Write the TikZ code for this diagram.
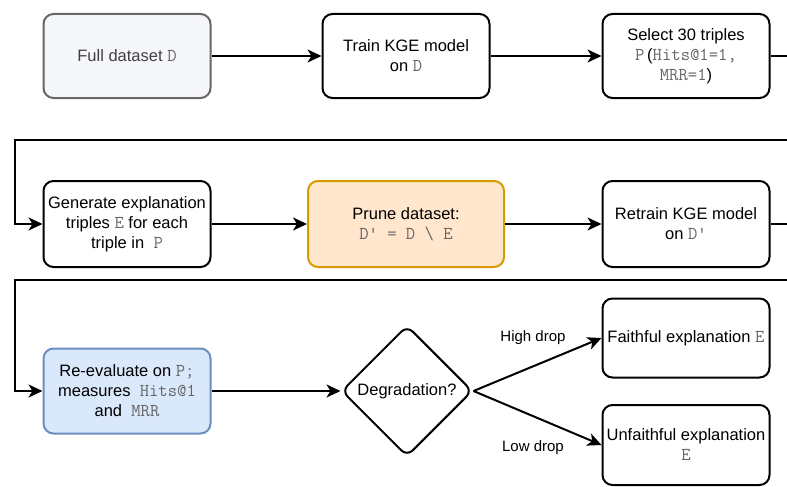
\documentclass[tikz,border=0pt]{standalone}
\usepackage{fontspec}
\setmainfont{Liberation Sans}
\setmonofont{Latin Modern Mono}[Scale=1.1]
\usetikzlibrary{positioning,shapes.geometric,arrows.meta}

\definecolor{codegray}{HTML}{666666}
\definecolor{greyfill}{HTML}{F5F7FA}
\definecolor{greyline}{HTML}{666666}
\definecolor{orangefill}{HTML}{FFE6CC}
\definecolor{orangeline}{HTML}{D79B00}
\definecolor{bluefill}{HTML}{DAE8FC}
\definecolor{blueline}{HTML}{6C8EBF}

\newcommand{\code}[1]{{\color{codegray}\ttfamily #1}}

\tikzset{
  stepbox/.style={draw, fill=white, rounded corners=10pt, line width=2pt,
    minimum width=167pt, minimum height=84pt, align=center, inner sep=1pt},
  decision/.style={draw, fill=white, diamond, aspect=1, rounded corners=8pt,
    line width=2pt, minimum width=131pt, minimum height=131pt, inner sep=0pt},
  flow/.style={line width=2pt, -{Stealth[length=14pt,width=13pt,inset=4pt]}},
  lbl/.style={font=\fontsize{15}{18}\selectfont}
}

\begin{document}
\begin{tikzpicture}[x=1pt,y=-1pt, font=\fontsize{16.5}{20}\selectfont]
  \useasboundingbox (0,0) rectangle (787,487);

  % first row
  \node[stepbox, fill=greyfill, draw=greyline, text=black!75] (full) at (127,56) {Full dataset \code{D}};
  \node[stepbox] (train) at (406,56) {Train KGE model\\on \code{D}};
  \node[stepbox] (select) at (686,56) {Select 30 triples\\\code{P}\,(\code{Hits@1=1,}\\\code{MRR=1})};

  % second row
  \node[stepbox, minimum height=86pt] (gen) at (127,224) {Generate explanation\\triples \code{E} for each\\triple in \ \code{P}};
  \node[stepbox, minimum width=196pt, minimum height=86pt, fill=orangefill, draw=orangeline] (prune) at (406,224) {Prune dataset:\\\code{D' = D \textbackslash{} E}};
  \node[stepbox, minimum height=86pt] (retrain) at (686,224) {Retrain KGE model\\on \code{D'}};

  % third row
  \node[stepbox, minimum height=85pt, fill=bluefill, draw=blueline] (reeval) at (127,391) {Re-evaluate on \code{P;}\\measures \ \code{Hits@1}\\and \ \code{MRR}};
  \node[decision] (degr) at (407,391) {Degradation?};
  \node[stepbox, minimum height=79pt] (faith) at (686,338) {Faithful explanation \code{E}};
  \node[stepbox, minimum height=80pt] (unfaith) at (686,445) {Unfaithful explanation\\\code{E}};

  \node[lbl] (highlbl) at (533,338) {High drop};
  \node[lbl] (lowlbl) at (533,448) {Low drop};

  % turning points at the row breaks
  \coordinate (rightA) at (800,140);
  \coordinate (leftA) at (15,140);
  \coordinate (rightB) at (800,280);
  \coordinate (leftB) at (15,280);

  \draw[flow] (full) -- (train);
  \draw[flow] (train) -- (select);
  \draw[flow] (select.east) -| (rightA) -- (leftA) |- (gen.west);

  \draw[flow] (gen) -- (prune);
  \draw[flow] (prune) -- (retrain);
  \draw[flow] (retrain.east) -| (rightB) -- (leftB) |- (reeval.west);

  \draw[flow] (reeval) -- (degr);
  \draw[flow] (degr.east) -- (faith.west);
  \draw[flow] (degr.east) -- (unfaith.west);
\end{tikzpicture}
\end{document}
